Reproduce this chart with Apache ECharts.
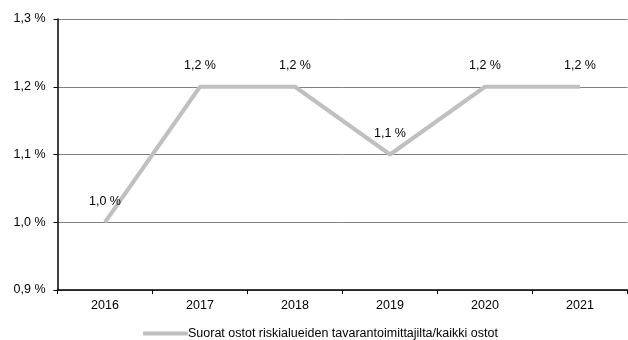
<!DOCTYPE html>
<html><head><meta charset="utf-8">
<script src="https://cdn.jsdelivr.net/npm/echarts@6/dist/echarts.min.js"></script>
<style>html,body{margin:0;padding:0;background:#fff}#c{width:628px;height:340px}</style>
</head><body><div id="c"></div>
<script>
var categories = ['2016','2017','2018','2019','2020','2021'];
var values = [1.0, 1.2, 1.2, 1.1, 1.2, 1.2];
var seriesName = 'Suorat ostot riskialueiden tavarantoimittajilta/kaikki ostot';
function fmt(v){ return v.toFixed(1).replace('.', ',') + ' %'; }
var chart = echarts.init(document.getElementById('c'), null, {renderer:'canvas'});
chart.setOption({
  animation:false,
  textStyle:{fontFamily:'Liberation Sans, Arial, sans-serif'},
  grid:{left:57.5, right:0.5, top:19, bottom:50, containLabel:false},
  legend:{bottom:-5, left:138, itemWidth:45, itemHeight:4, itemGap:0,
    textStyle:{fontSize:12.5, color:'#000', fontFamily:'Liberation Sans, Arial, sans-serif', padding:[0,0,0,-5]},
    data:[{name:seriesName, icon:'roundRect', itemStyle:{color:'#c0c0c0', opacity:1}}]},
  xAxis:{type:'category', data:categories, boundaryGap:true,
    axisLine:{lineStyle:{color:'#000', width:1.5}},
    axisTick:{show:true, length:4, lineStyle:{color:'#000'}},
    axisLabel:{fontSize:12.5, color:'#000', margin:9}},
  yAxis:{type:'value', min:0.9, max:1.3, interval:0.1,
    axisLine:{show:true, lineStyle:{color:'#000', width:1.5}},
    axisTick:{show:true, length:4, lineStyle:{color:'#000'}},
    splitLine:{lineStyle:{color:'#808080', width:1}},
    axisLabel:{fontSize:12.5, color:'#000', margin:12, formatter:function(v){return fmt(v);}}},
  series:[{name:seriesName, type:'line', data:values, symbol:'circle', symbolSize:1, showSymbol:true,
    lineStyle:{color:'#c0c0c0', width:4}, itemStyle:{color:'#c0c0c0'},
    labelLayout:{hideOverlap:false},
    label:{show:true, position:'top', distance:14, fontSize:12.5, color:'#000',
      formatter:function(p){return fmt(p.value);}}}]
});
</script></body></html>
